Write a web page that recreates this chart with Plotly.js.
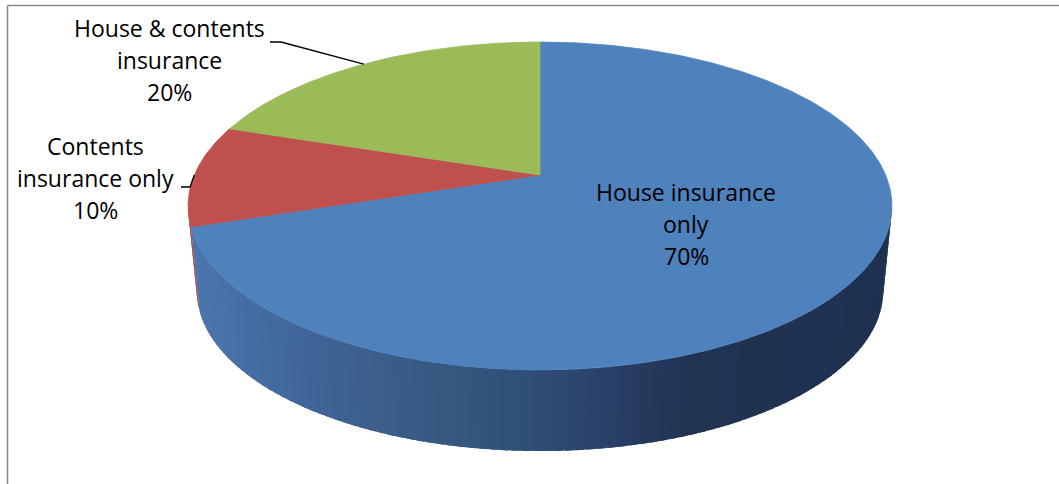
<!DOCTYPE html>
<html>
<head>
<meta charset="utf-8">
<script src="https://cdn.plot.ly/plotly-3.0.1.min.js"></script>
<style>html,body{margin:0;padding:0;background:#fff;}#chart{width:1059px;height:484px;}</style>
</head>
<body>
<div id="chart"></div>
<script>
// ---- data ----
const categories = ["House insurance only", "Contents insurance only", "House & contents insurance"];
const values = [70, 10, 20];
const labelLines = [["House insurance", "only"], ["Contents", "insurance only"], ["House & contents", "insurance"]];

// ---- style / geometry ----
const topColors = ["#4F81BD", "#C0504D", "#9BBB59"];
const sideColors = [null, "#A8433F", "#7F9A48"];
const CX = 540, CY = 175, R = 345.6, S = 158.1, K = 0.189, DEPTH = 86, BS = 0.975;
const labelPos = [
  {x: 686, ys: [192, 224, 256]},
  {x: 95, ys: [146, 178, 210]},
  {x: 169, ys: [28, 60, 92]}
];
const leaderStart = [null, [[181, 187], [190, 187]], [[270, 42], [281, 42]]];
const FONT = {family: "Open Sans, sans-serif", size: 23, color: "#000000"};

function proj(phiDeg, level) {
  const p = phiDeg * Math.PI / 180;
  const u = Math.sin(p), v = Math.cos(p);
  const r = level ? R * BS : R, s = level ? S * BS : S;
  const cy = CY + level * DEPTH;
  const w = 1 + K * v;
  return [CX + r * u / w, cy - s * v / w];
}

function hex2rgb(h) { return [parseInt(h.substr(1,2),16), parseInt(h.substr(3,2),16), parseInt(h.substr(5,2),16)]; }
const gradStops = [[190, "#4B76AD"], [300, "#41669A"], [450, "#36587F"], [540, "#2F4D78"], [620, "#283F66"], [690, "#203452"], [900, "#1E3150"]];
function gradColor(x) {
  if (x <= gradStops[0][0]) return gradStops[0][1];
  for (let i = 1; i < gradStops.length; i++) {
    if (x <= gradStops[i][0]) {
      const t = (x - gradStops[i-1][0]) / (gradStops[i][0] - gradStops[i-1][0]);
      const a = hex2rgb(gradStops[i-1][1]), b = hex2rgb(gradStops[i][1]);
      return "rgb(" + a.map((c, j) => Math.round(c + (b[j] - c) * t)).join(",") + ")";
    }
  }
  return gradStops[gradStops.length-1][1];
}

const total = values.reduce((a, b) => a + b, 0);
const slices = [];
let cum = 0;
values.forEach((v, i) => { slices.push({i, start: cum / total * 360, end: (cum + v) / total * 360}); cum += v; });

const traces = [];
const phiR = Math.acos(-K) * 180 / Math.PI;
const phiL = 360 - phiR;

// side walls (strips overlap so no seams show)
slices.forEach(sl => {
  const a0 = Math.max(sl.start, phiR), a1 = Math.min(sl.end, phiL);
  if (a1 <= a0) return;
  const n = Math.max(1, Math.ceil((a1 - a0) / 1.5));
  for (let k = n - 1; k >= 0; k--) {
    const a = a0 + (a1 - a0) * k / n;
    const b = Math.min(a1, a0 + (a1 - a0) * (k + 1) / n + (k < n - 1 ? 0.8 : 0));
    const aa = Math.max(a0, a - (k > 0 ? 0.3 : 0));
    const xs = [], ys = [];
    const steps = 4;
    for (let s = 0; s <= steps; s++) { const p = proj(aa + (b - aa) * s / steps, 0); xs.push(p[0]); ys.push(p[1]); }
    for (let s = steps; s >= 0; s--) { const p = proj(aa + (b - aa) * s / steps, 1); xs.push(p[0]); ys.push(p[1]); }
    const midx = proj(a + (a1 - a0) / n / 2, 0)[0];
    const col = sl.i === 0 ? gradColor(midx) : sideColors[sl.i];
    traces.push({type: "scatter", mode: "lines", x: xs, y: ys, fill: "toself", fillcolor: col,
      line: {width: 0}, hoverinfo: "skip", showlegend: false});
  }
});

// top faces
slices.forEach(sl => {
  const xs = [CX], ys = [CY];
  const n = Math.ceil((sl.end - sl.start) / 0.5);
  for (let k = 0; k <= n; k++) { const p = proj(sl.start + (sl.end - sl.start) * k / n, 0); xs.push(p[0]); ys.push(p[1]); }
  xs.push(CX); ys.push(CY);
  traces.push({type: "scatter", mode: "lines", x: xs, y: ys, fill: "toself", fillcolor: topColors[sl.i],
    line: {color: topColors[sl.i], width: 0.8}, name: categories[sl.i], hoverinfo: "name", showlegend: false});
});

// leader lines
slices.forEach(sl => {
  const ls = leaderStart[sl.i];
  if (!ls) return;
  const end = proj((sl.start + sl.end) / 2, 0);
  traces.push({type: "scatter", mode: "lines", x: ls.map(p => p[0]).concat([end[0]]), y: ls.map(p => p[1]).concat([end[1]]),
    line: {color: "#000000", width: 1.3}, hoverinfo: "skip", showlegend: false});
});

// labels
const annotations = [];
slices.forEach(sl => {
  const lines = labelLines[sl.i].concat([Math.round(values[sl.i] / total * 100) + "%"]);
  lines.forEach((t, j) => {
    annotations.push({x: labelPos[sl.i].x, y: labelPos[sl.i].ys[j], xref: "x", yref: "y", text: t, showarrow: false,
      xanchor: "center", yanchor: "middle", font: FONT});
  });
});

const layout = {
  width: 1059, height: 484,
  margin: {l: 0, r: 0, t: 0, b: 0},
  paper_bgcolor: "#ffffff", plot_bgcolor: "#ffffff",
  xaxis: {range: [0, 1059], visible: false, fixedrange: true},
  yaxis: {range: [484, 0], visible: false, fixedrange: true},
  annotations: annotations,
  shapes: [
    {type: "line", xref: "paper", yref: "paper", x0: 7.5/1059, x1: 1, y0: 1 - 5.5/484, y1: 1 - 5.5/484, line: {color: "#8C8C8C", width: 1.6}},
    {type: "line", xref: "paper", yref: "paper", x0: 7.5/1059, x1: 7.5/1059, y0: 0, y1: 1 - 5.5/484, line: {color: "#8C8C8C", width: 1.6}}
  ],
  showlegend: false
};

Plotly.newPlot("chart", traces, layout, {displayModeBar: false, staticPlot: true});
</script>
</body>
</html>
